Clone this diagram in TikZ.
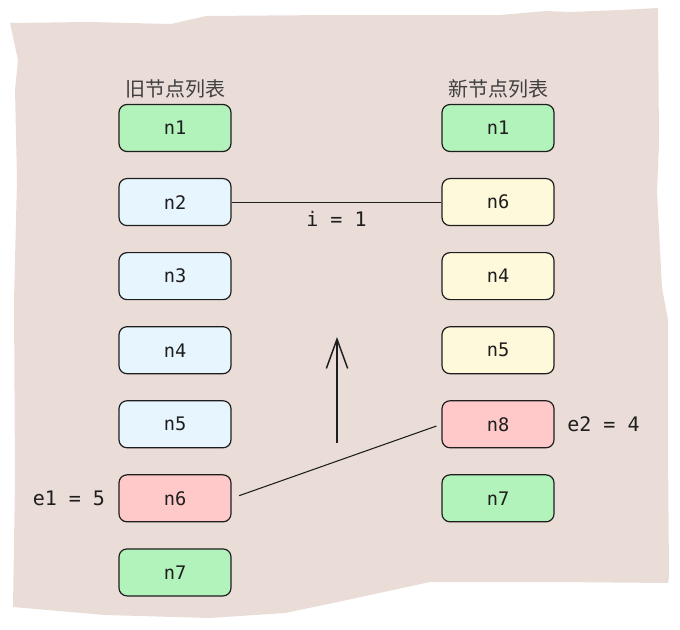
\documentclass[tikz,border=0pt]{standalone}
\usepackage{fontspec}
\setmonofont{DejaVu Sans Mono}
\newfontfamily\cjk{Noto Sans CJK SC}
\usepackage{xcolor}
\usetikzlibrary{positioning,arrows.meta}

\definecolor{paper}{RGB}{234,221,215}
\definecolor{keepgreen}{HTML}{B2F2BB}
\definecolor{oldblue}{HTML}{E7F5FF}
\definecolor{newyellow}{HTML}{FFF9DB}
\definecolor{diffred}{HTML}{FFC9C9}
\definecolor{ink}{HTML}{1E1E1E}

\begin{document}
\begin{tikzpicture}[
  x=0.75pt, y=-0.75pt,
  node distance=19.4pt and 6pt,
  item/.style={draw=ink, line width=0.9pt, rounded corners=6pt,
               minimum width=84pt, minimum height=35.25pt,
               font=\ttfamily\fontsize{14}{16}\selectfont, text=ink},
  same/.style={item, fill=keepgreen},
  oldbox/.style={item, fill=oldblue},
  newbox/.style={item, fill=newyellow},
  diffbox/.style={item, fill=diffred},
  title/.style={font=\cjk\fontsize{15}{17}\selectfont, text=ink!85},
  marker/.style={font=\ttfamily\fontsize{15}{17}\selectfont, text=ink},
]
\useasboundingbox (0,0) rectangle (680,629);
% torn paper background
\fill[paper] (10,23) -- (90,22) -- (171,24) -- (206,16) -- (330,15)
  -- (500,15) -- (546,11) -- (570,12) -- (620,10) -- (658,8)
  -- (659,144) -- (657,192) -- (662,288) -- (668,320) -- (668,449)
  -- (669,577) -- (668,583) -- (560,582) -- (430,582) -- (333,603)
  -- (285,613) -- (210,618) -- (105,615) -- (13,607) -- (15,480)
  -- (14,300) -- (17,180) -- (15,90) -- (18,60) -- cycle;

% old list
\node[same] (o1) at (175,128) {n1};
\node[oldbox, below=of o1] (o2) {n2};
\node[oldbox, below=of o2] (o3) {n3};
\node[oldbox, below=of o3] (o4) {n4};
\node[oldbox, below=of o4] (o5) {n5};
\node[diffbox, below=of o5] (o6) {n6};
\node[same, below=of o6] (o7) {n7};
\node[title, above=1pt of o1] (oldtitle) {旧节点列表};

% new list
\node[same] (r1) at (498,128) {n1};
\node[newbox, below=of r1] (r2) {n6};
\node[newbox, below=of r2] (r3) {n4};
\node[newbox, below=of r3] (r4) {n5};
\node[diffbox, below=of r4] (r5) {n8};
\node[same, below=of r5] (r6) {n7};
\node[title, above=1pt of r1] (newtitle) {新节点列表};

% pointers
\node[marker, left=6.5pt of o6] (e1) {e1 = 5};
\node[marker, right=of r5] (e2) {e2 = 4};
\coordinate (up0) at (337,443);
\coordinate (up1) at (337,337);

\draw[ink, line width=0.8pt] (o2.east) -- node[marker, below=3pt] (i1) {i = 1} (r2.west);
\draw[ink, line width=0.8pt, shorten <=6pt, shorten >=4pt] (o6.east) -- (r5.west);
\draw[ink, line width=1.1pt, -{Straight Barb[length=22pt, width=16pt]}] (up0) -- (up1);
\end{tikzpicture}
\end{document}
